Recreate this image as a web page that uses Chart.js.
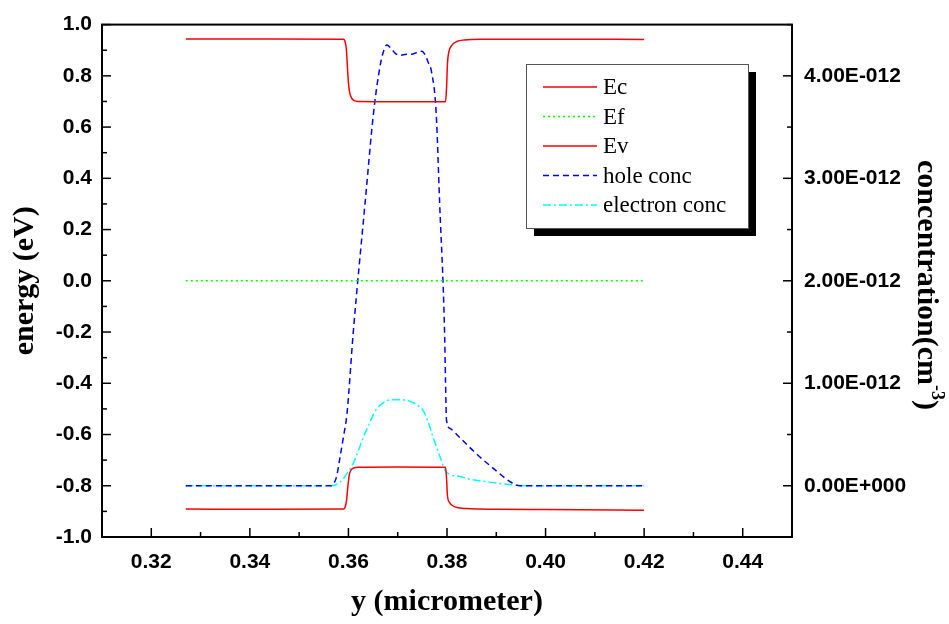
<!DOCTYPE html>
<html>
<head>
<meta charset="utf-8">
<script src="https://cdn.jsdelivr.net/npm/chart.js@4"></script>
<style>
  body { margin: 0; background: #fff; }
</style>
</head>
<body>
<canvas id="bandChart" width="949" height="624"></canvas>
<script>
// band edges (eV) vs position (micrometer)
const ecX = [0.327, 0.345, 0.3590, 0.3593, 0.3596, 0.3599, 0.3602, 0.3606, 0.3612, 0.3620, 0.370, 0.3797, 0.3799, 0.3801, 0.3804, 0.3810, 0.3820, 0.3835, 0.387, 0.400, 0.420];
const ecY = [0.944, 0.944, 0.943, 0.935, 0.900, 0.800, 0.740, 0.715, 0.703, 0.700, 0.699, 0.699, 0.750, 0.850, 0.895, 0.920, 0.934, 0.940, 0.943, 0.943, 0.942];

const efX = [0.327, 0.420];
const efY = [0.0, 0.0];

const evX = [0.327, 0.345, 0.3590, 0.3593, 0.3596, 0.3599, 0.3602, 0.3606, 0.3612, 0.3620, 0.370, 0.3797, 0.3799, 0.3801, 0.3805, 0.3810, 0.3820, 0.3840, 0.390, 0.400, 0.420];
const evY = [-0.891, -0.892, -0.891, -0.885, -0.860, -0.800, -0.755, -0.737, -0.730, -0.728, -0.727, -0.728, -0.770, -0.840, -0.865, -0.876, -0.885, -0.889, -0.892, -0.893, -0.896];

// concentrations, in units of 1e-12 cm^-3
const holeX = [0.327, 0.3565, 0.3570, 0.3576, 0.3583, 0.3590, 0.3597, 0.3610, 0.3634, 0.3651, 0.3664, 0.3672, 0.3678, 0.3686, 0.3695, 0.3705, 0.3718, 0.3728, 0.3740, 0.3749, 0.3755, 0.3762, 0.3769, 0.3778, 0.3785, 0.3795, 0.3797, 0.3799, 0.3806, 0.3826, 0.3860, 0.3894, 0.3928, 0.3948, 0.420];
const holeY = [0, 0, 0.02, 0.09, 0.28, 0.48, 0.70, 1.51, 2.77, 3.64, 4.09, 4.25, 4.30, 4.27, 4.22, 4.20, 4.21, 4.21, 4.23, 4.24, 4.21, 4.13, 4.03, 3.64, 2.77, 1.51, 1.02, 0.64, 0.56, 0.47, 0.31, 0.17, 0.04, 0.0, 0.0];

const elecX = [0.327, 0.3565, 0.3575, 0.3590, 0.3600, 0.3610, 0.3620, 0.3630, 0.3641, 0.3651, 0.3661, 0.3671, 0.3688, 0.3705, 0.3720, 0.3732, 0.3742, 0.3752, 0.3762, 0.3772, 0.3786, 0.3796, 0.3806, 0.3826, 0.3850, 0.3880, 0.3910, 0.3934, 0.3960, 0.420];
const elecY = [0, 0, 0.01, 0.07, 0.14, 0.22, 0.34, 0.47, 0.59, 0.70, 0.77, 0.81, 0.84, 0.84, 0.83, 0.81, 0.78, 0.73, 0.62, 0.47, 0.28, 0.15, 0.11, 0.09, 0.06, 0.04, 0.02, 0.01, 0, 0];
const CONC_UNIT = 1e-12;

// tick labels
const xTickVals = [0.32, 0.34, 0.36, 0.38, 0.40, 0.42, 0.44];
const xTickLabels = ['0.32', '0.34', '0.36', '0.38', '0.40', '0.42', '0.44'];
const energyTickVals = [-1.0, -0.8, -0.6, -0.4, -0.2, 0.0, 0.2, 0.4, 0.6, 0.8, 1.0];
const energyTickLabels = ['-1.0', '-0.8', '-0.6', '-0.4', '-0.2', '0.0', '0.2', '0.4', '0.6', '0.8', '1.0'];
const concTickVals = [0, 1, 2, 3, 4];
const concTickLabels = ['0.00E+000', '1.00E-012', '2.00E-012', '3.00E-012', '4.00E-012'];

const pts = (xs, ys, k = 1) => xs.map((x, i) => ({ x: x, y: ys[i] * k }));
const labelFor = (vals, labels, tol, k = 1) => v => {
    const i = vals.findIndex(m => Math.abs(m * k - v) < tol);
    return i < 0 ? '' : labels[i];
};

const tickFont = { family: 'Liberation Sans', size: 21, weight: 'bold' };
const titleFont = { family: 'Liberation Serif', size: 30, weight: 'bold' };

// frame + inward tick marks, Origin style
const frameTicks = {
    id: 'frameTicks',
    afterDatasetsDraw(chart) {
        const { ctx, chartArea: a } = chart;
        ctx.save();
        ctx.strokeStyle = '#000';
        ctx.lineWidth = 1.5;
        const xs = chart.scales.x;
        xs.ticks.forEach(t => {
            const px = xs.getPixelForValue(t.value);
            const len = t.label ? 9 : 5;
            ctx.beginPath(); ctx.moveTo(px, a.bottom); ctx.lineTo(px, a.bottom - len); ctx.stroke();
        });
        const ys = chart.scales.y;
        ys.ticks.forEach(t => {
            const py = ys.getPixelForValue(t.value);
            const len = t.label ? 9 : 5;
            ctx.beginPath(); ctx.moveTo(a.left, py); ctx.lineTo(a.left + len, py); ctx.stroke();
        });
        const y1 = chart.scales.y1;
        y1.ticks.forEach(t => {
            const py = y1.getPixelForValue(t.value);
            const len = t.label ? 9 : 5;
            ctx.beginPath(); ctx.moveTo(a.right, py); ctx.lineTo(a.right - len, py); ctx.stroke();
        });
        ctx.lineWidth = 2;
        ctx.strokeRect(a.left, a.top, a.right - a.left, a.bottom - a.top);
        ctx.restore();
    }
};

// boxed legend with drop shadow, and right title with superscript
const legendBox = { x: 526, y: 64, w: 222, h: 164, shadow: 8, rowTop: 87, rowGap: 29.5, sampleX: 543, sampleW: 54, textX: 603 };
const extras = {
    id: 'extras',
    afterDraw(chart) {
        const ctx = chart.ctx;
        const b = legendBox;
        ctx.save();
        ctx.fillStyle = '#000';
        ctx.fillRect(b.x + b.shadow, b.y + b.shadow, b.w, b.h);
        ctx.fillStyle = '#fff';
        ctx.fillRect(b.x, b.y, b.w, b.h);
        ctx.strokeStyle = '#555';
        ctx.lineWidth = 1;
        ctx.strokeRect(b.x + 0.5, b.y + 0.5, b.w, b.h);
        ctx.font = '23px "Liberation Serif"';
        ctx.textBaseline = 'middle';
        chart.data.datasets.forEach((ds, i) => {
            const yy = b.rowTop + i * b.rowGap;
            ctx.strokeStyle = ds.borderColor;
            ctx.lineWidth = 1.5;
            ctx.setLineDash(ds.borderDash || []);
            ctx.beginPath(); ctx.moveTo(b.sampleX, yy); ctx.lineTo(b.sampleX + b.sampleW, yy); ctx.stroke();
            ctx.setLineDash([]);
            ctx.fillStyle = '#000';
            ctx.fillText(ds.label, b.textX, yy + 1);
        });

        // right axis title: concentration(cm^-3)
        ctx.translate(926, 285);
        ctx.rotate(Math.PI / 2);
        ctx.fillStyle = '#000';
        ctx.textBaseline = 'middle';
        const main = 'concentration(cm', sup = '-3', tail = ')';
        ctx.font = 'bold 30px "Liberation Serif"';
        const w1 = ctx.measureText(main).width, w3 = ctx.measureText(tail).width;
        ctx.font = 'bold 18px "Liberation Serif"';
        const w2 = ctx.measureText(sup).width;
        let x0 = -(w1 + w2 + w3) / 2;
        ctx.font = 'bold 30px "Liberation Serif"';
        ctx.fillText(main, x0, 0);
        ctx.font = 'bold 18px "Liberation Serif"';
        ctx.fillText(sup, x0 + w1, -11);
        ctx.font = 'bold 30px "Liberation Serif"';
        ctx.fillText(tail, x0 + w1 + w2, 0);
        ctx.restore();
    }
};

new Chart(document.getElementById('bandChart'), {
    type: 'line',
    data: {
        datasets: [
            { label: 'Ec', data: pts(ecX, ecY), borderColor: '#ff0000', yAxisID: 'y' },
            { label: 'Ef', data: pts(efX, efY), borderColor: '#00ff00', borderDash: [2, 3], yAxisID: 'y' },
            { label: 'Ev', data: pts(evX, evY), borderColor: '#ff0000', yAxisID: 'y' },
            { label: 'hole conc', data: pts(holeX, holeY, CONC_UNIT), borderColor: '#0000ff', borderDash: [6, 4], yAxisID: 'y1' },
            { label: 'electron conc', data: pts(elecX, elecY, CONC_UNIT), borderColor: '#00ffff', borderDash: [8, 3, 2, 3], yAxisID: 'y1' }
        ]
    },
    options: {
        responsive: false,
        animation: false,
        layout: { padding: { top: 20, left: 0, right: 0, bottom: 0 } },
        elements: {
            point: { radius: 0 },
            line: { borderWidth: 1.5, cubicInterpolationMode: 'monotone', fill: false }
        },
        scales: {
            x: {
                type: 'linear', min: 0.31, max: 0.45,
                grid: { display: false, drawTicks: false },
                border: { display: false },
                ticks: {
                    stepSize: 0.01, autoSkip: false, maxRotation: 0, padding: 13,
                    color: '#000', font: tickFont,
                    callback: labelFor(xTickVals, xTickLabels, 1e-6)
                },
                title: { display: true, text: 'y (micrometer)', color: '#000', font: titleFont, padding: { top: 0, bottom: 4 } },
                afterFit: s => { s.height = 87; }
            },
            y: {
                position: 'left', min: -1, max: 1,
                grid: { display: false, drawTicks: false },
                border: { display: false },
                ticks: {
                    stepSize: 0.1, autoSkip: false, padding: 10,
                    color: '#000', font: tickFont,
                    callback: labelFor(energyTickVals, energyTickLabels, 1e-6)
                },
                title: { display: true, text: 'energy (eV)', color: '#000', font: titleFont, padding: { top: 7, bottom: 0 } },
                afterFit: s => { s.width = 102; }
            },
            y1: {
                position: 'right', min: -0.5e-12, max: 4.5e-12,
                grid: { display: false, drawTicks: false },
                border: { display: false },
                ticks: {
                    stepSize: 0.5e-12, autoSkip: false, padding: 12,
                    color: '#000', font: tickFont,
                    callback: labelFor(concTickVals, concTickLabels, 1e-18, CONC_UNIT)
                },
                afterFit: s => { s.width = 157; }
            }
        },
        plugins: {
            legend: { display: false },
            tooltip: { enabled: false }
        }
    },
    plugins: [frameTicks, extras]
});
</script>
</body>
</html>
